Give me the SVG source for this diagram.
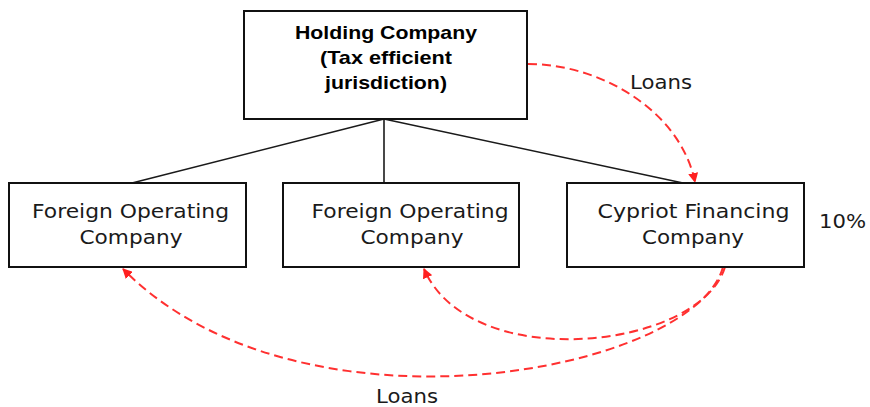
<svg xmlns="http://www.w3.org/2000/svg" width="870" height="407" viewBox="0 0 870 407">
  <style>
    .box { fill: #ffffff; stroke: #111111; stroke-width: 2; }
    .tree { fill: none; stroke: #1a1a1a; stroke-width: 1.6; }
    .loan { fill: none; stroke: #ff3030; stroke-width: 2; stroke-dasharray: 9 5; marker-end: url(#redArrow); }
    .lbl { font-family: "DejaVu Sans", Verdana, sans-serif; font-size: 20px; fill: #1a1a1a; text-anchor: middle; }
    .head { font-family: "Liberation Sans", Arial, sans-serif; font-size: 18.5px; font-weight: bold; fill: #000000; text-anchor: middle; }
  </style>
  <defs>
    <marker id="redArrow" viewBox="0 0 10 10" refX="9" refY="5" markerWidth="10" markerHeight="10" markerUnits="userSpaceOnUse" orient="auto">
      <path d="M0,0 L10,5 L0,10 Z" fill="#ff2020"/>
    </marker>
  </defs>

  <rect width="870" height="407" fill="#ffffff"/>

  <!-- ownership lines and loan flows -->
  <g id="connectors">
    <path class="tree" d="M384,119 L132,183"/>
    <path class="tree" d="M384,119 L384,183"/>
    <path class="tree" d="M384,119 L683,183"/>
    <path class="loan" d="M528,64 C600,64 680,110 695,182"/>
    <path class="loan" d="M725,267 C700,350 470,375 424,269"/>
    <path class="loan" d="M723,267 C695,372 300,448 123,269"/>
  </g>

  <g id="holding">
    <rect class="box" x="244" y="11" width="283" height="108"/>
    <text class="head" x="386" y="39" textLength="182" lengthAdjust="spacingAndGlyphs">Holding Company</text>
    <text class="head" x="386" y="64" textLength="132" lengthAdjust="spacingAndGlyphs">(Tax efficient</text>
    <text class="head" x="386" y="89" textLength="122" lengthAdjust="spacingAndGlyphs">jurisdiction)</text>
  </g>

  <g id="foreign-op-1">
    <rect class="box" x="9" y="183" width="237" height="84"/>
    <text class="lbl" x="130.5" y="218" textLength="197" lengthAdjust="spacingAndGlyphs">Foreign Operating</text>
    <text class="lbl" x="131" y="244" textLength="103" lengthAdjust="spacingAndGlyphs">Company</text>
  </g>

  <g id="foreign-op-2">
    <rect class="box" x="283" y="183" width="236" height="84"/>
    <text class="lbl" x="410" y="218" textLength="197" lengthAdjust="spacingAndGlyphs">Foreign Operating</text>
    <text class="lbl" x="412" y="244" textLength="103" lengthAdjust="spacingAndGlyphs">Company</text>
  </g>

  <g id="cypriot-financing">
    <rect class="box" x="567" y="183" width="237" height="84"/>
    <text class="lbl" x="693.5" y="218" textLength="192" lengthAdjust="spacingAndGlyphs">Cypriot Financing</text>
    <text class="lbl" x="693" y="244" textLength="102" lengthAdjust="spacingAndGlyphs">Company</text>
  </g>

  <g id="labels">
    <text class="lbl" x="842.5" y="228" textLength="47" lengthAdjust="spacingAndGlyphs">10%</text>
    <text class="lbl" x="661" y="89" textLength="62" lengthAdjust="spacingAndGlyphs">Loans</text>
    <text class="lbl" x="407" y="403" textLength="62" lengthAdjust="spacingAndGlyphs">Loans</text>
  </g>
</svg>
